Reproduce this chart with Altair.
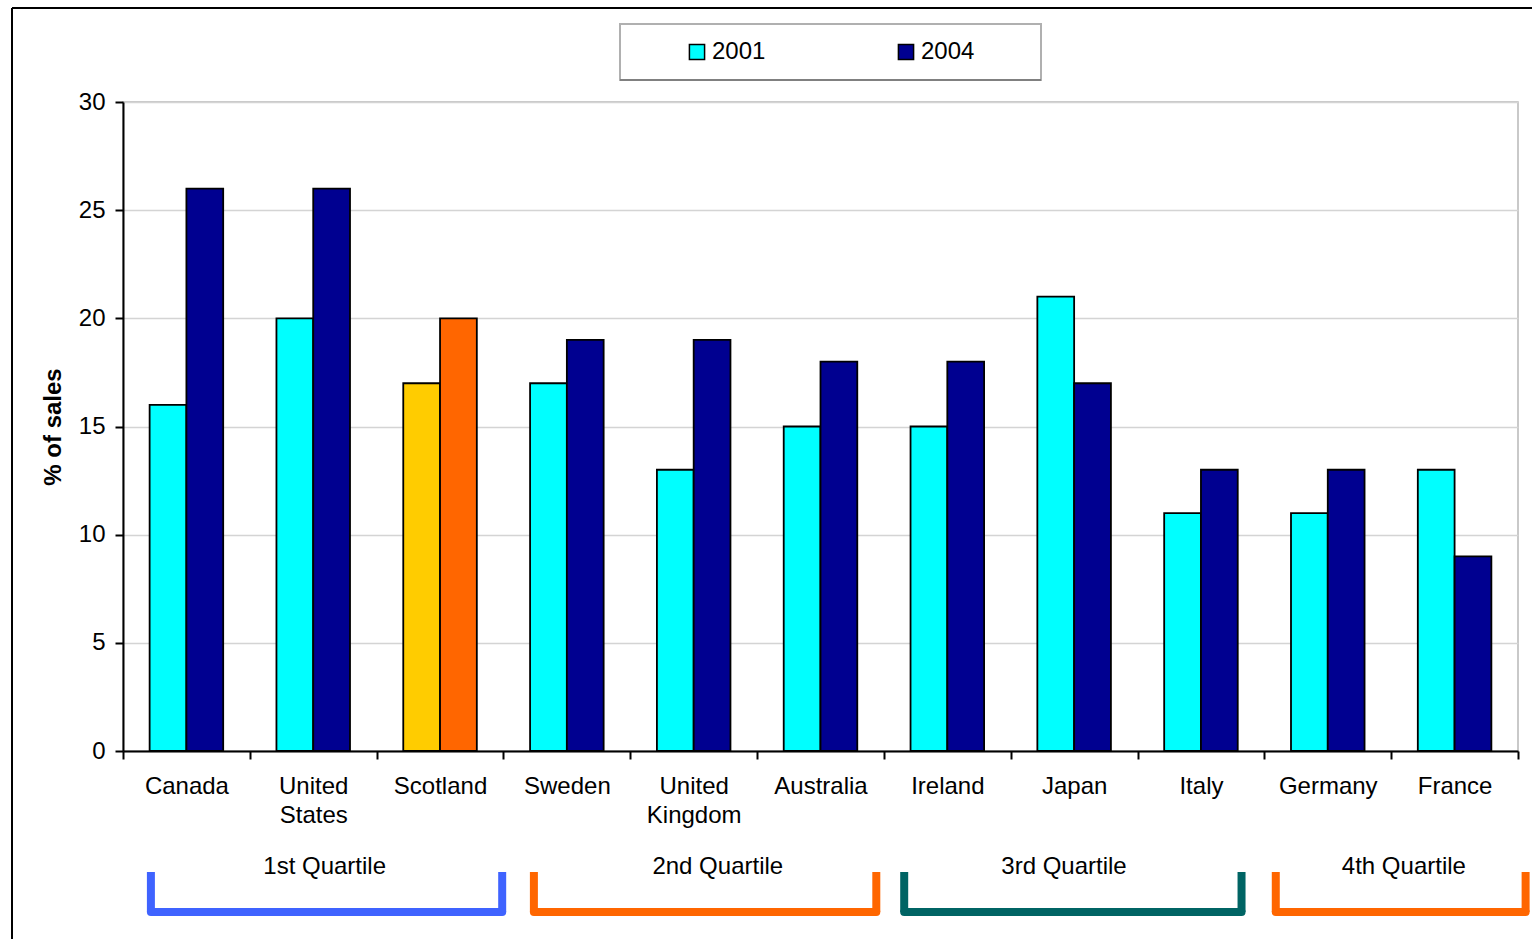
import altair as alt
import pandas as pd

countries = ["Canada", "United States", "Scotland", "Sweden", "United Kingdom",
             "Australia", "Ireland", "Japan", "Italy", "Germany", "France"]
v2001 = [16, 20, 17, 17, 13, 15, 15, 21, 11, 11, 13]
v2004 = [26, 26, 20, 19, 19, 18, 18, 17, 13, 13, 9]
highlight = "Scotland"

quartiles = ["1st Quartile", "2nd Quartile", "3rd Quartile", "4th Quartile"]
# bracket extents and label centres, in category-index units (0 = left edge, 11 = right edge)
bracket_start = [0.22, 3.24, 6.16, 9.09]
bracket_end = [2.99, 5.94, 8.82, 11.06]
label_pos = [1.59, 4.69, 7.42, 10.10]
quartile_colors = ["#3F63FF", "#FF6600", "#006464", "#FF6600"]

FONT = "Liberation Sans"
FS = 24
W, H = 1395, 649

rows = []
for c, a, b in zip(countries, v2001, v2004):
    pre = "Scotland " if c == highlight else ""
    rows.append({"country": c, "year": "2001", "key": pre + "2001", "value": a})
    rows.append({"country": c, "year": "2004", "key": pre + "2004", "value": b})
df = pd.DataFrame(rows)

qdf = pd.DataFrame({"quartile": quartiles, "start": bracket_start, "end": bracket_end,
                    "mid": label_pos, "color": quartile_colors})

bars = alt.Chart(df).mark_bar(stroke="black", strokeWidth=1.8).encode(
    x=alt.X("country:N", sort=countries, title=None,
            scale=alt.Scale(paddingInner=0, paddingOuter=0),
            axis=alt.Axis(labelExpr="split(datum.label, ' ')", labelFontSize=FS,
                          labelColor="black", labelFont=FONT, labelAngle=0,
                          labelPadding=15, labelLineHeight=29, tickBand="extent",
                          tickSize=8, tickColor="black", domainColor="black",
                          domainWidth=2, tickWidth=2, grid=False)),
    xOffset=alt.XOffset("year:N", sort=["2001", "2004"],
                        scale=alt.Scale(paddingInner=0, paddingOuter=0.724)),
    y=alt.Y("value:Q", title="% of sales",
            scale=alt.Scale(domain=[0, 30], nice=False),
            axis=alt.Axis(values=[0, 5, 10, 15, 20, 25, 30], labelFontSize=FS,
                          labelColor="black", labelFont=FONT, labelPadding=10,
                          tickSize=8, tickColor="black", tickWidth=2,
                          domainColor="black", domainWidth=2,
                          grid=True, gridColor="#d4d4d4", gridWidth=1.5,
                          titleFont=FONT, titleFontSize=FS, titleFontWeight="bold",
                          titleColor="black", titlePadding=13)),
    fill=alt.Fill("key:N",
                  scale=alt.Scale(domain=["2001", "2004", "Scotland 2001", "Scotland 2004"],
                                  range=["#00FFFF", "#000090", "#FFCC00", "#FF6600"]),
                  legend=alt.Legend(values=["2001", "2004"], title=None, orient="none",
                                    legendX=562, legendY=-62, direction="horizontal",
                                    symbolType="square", symbolSize=230,
                                    symbolStrokeColor="black", symbolStrokeWidth=1.5,
                                    labelFontSize=FS, labelFont=FONT, labelColor="black",
                                    labelOffset=3, columnPadding=128, padding=0)),
)

qscale = alt.Scale(domain=[0, 11], nice=False, zero=False)
qbase = alt.Chart(qdf)

vrules = qbase.transform_fold(["start", "end"], as_=["side", "pos"]).mark_rule(
    strokeWidth=8, strokeCap="butt").encode(
    x=alt.X("pos:Q", scale=qscale, axis=None),
    y=alt.value(H + 121), y2=alt.value(H + 161),
    color=alt.Color("color:N", scale=None),
)
hrules = qbase.mark_rule(strokeWidth=8, strokeCap="round").encode(
    x=alt.X("start:Q", scale=qscale, axis=None), x2="end:Q",
    y=alt.value(H + 161),
    color=alt.Color("color:N", scale=None),
)
qtext = qbase.mark_text(fontSize=FS, font=FONT, color="black", baseline="middle").encode(
    x=alt.X("mid:Q", scale=qscale, axis=None),
    y=alt.value(H + 116),
    text="quartile:N",
)
brackets = alt.layer(vrules, hrules, qtext)

one = pd.DataFrame({"a": [0]})
legend_box = alt.Chart(one).mark_rect(fill="white", stroke="#b0b0b0", strokeWidth=2).encode(
    x=alt.value(497), x2=alt.value(918), y=alt.value(-78), y2=alt.value(-22))
legend_shadow = alt.Chart(one).mark_rule(stroke="#808080", strokeWidth=2).encode(
    x=alt.value(497), x2=alt.value(918), y=alt.value(-22))
frame_top = alt.Chart(one).mark_rule(stroke="black", strokeWidth=2).encode(
    x=alt.value(-111), x2=alt.value(1420), y=alt.value(-94))
frame_left = alt.Chart(one).mark_rule(stroke="black", strokeWidth=2).encode(
    x=alt.value(-111), y=alt.value(-94), y2=alt.value(850))

chart = alt.layer(frame_top, frame_left, legend_box, legend_shadow, bars, brackets).resolve_scale(
    x="independent"
).properties(
    width=W, height=H,
    padding={"left": 123, "top": 102, "right": 14, "bottom": 188},
    autosize=alt.AutoSizeParams(type="none"),
    background="white",
).configure_view(stroke="#b8b8b8", strokeWidth=1.5)

chart.save("out.html", embed_options={"renderer": "svg", "actions": False})
